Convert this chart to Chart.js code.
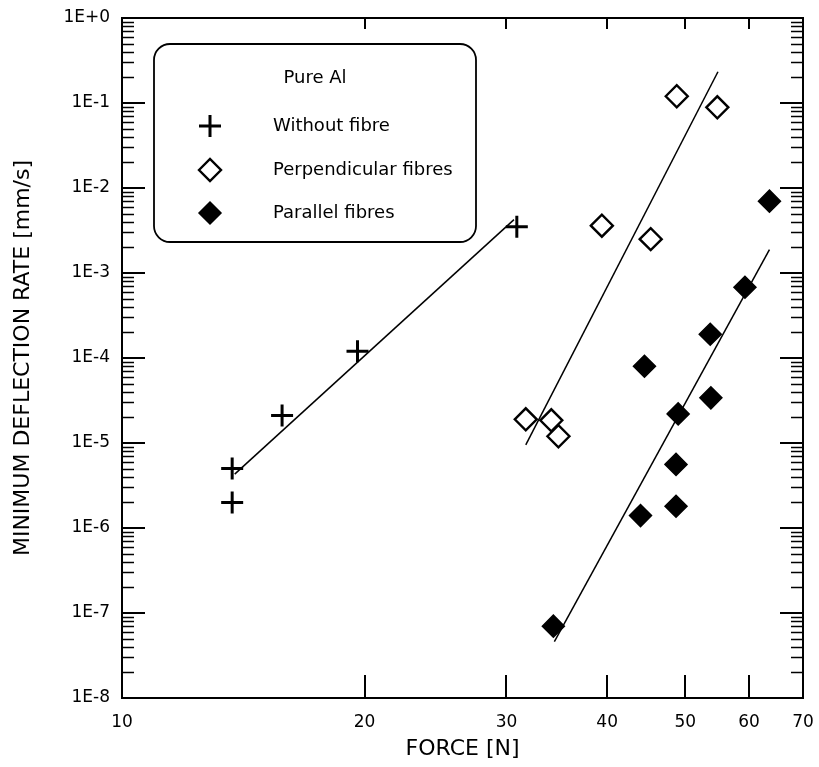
<!DOCTYPE html>
<html>
<head>
<meta charset="utf-8">
<title>Minimum deflection rate vs force</title>
<script src="https://cdn.jsdelivr.net/npm/chart.js@4.4.1/dist/chart.umd.min.js"></script>
<style>
    html, body { margin: 0; padding: 0; background: #fff; }
    #wrap { width: 819px; height: 767px; }
</style>
</head>
<body>
<div id="wrap"><canvas id="chart" width="819" height="767"></canvas></div>
<script>
// ---- values (force in N, rate in mm/s) ----
const withoutForce = [13.7, 13.7, 15.8, 19.6, 30.9];
const withoutRate = [5.0e-6, 2.0e-6, 2.1e-5, 1.2e-4, 3.5e-3];

const perpForce = [31.7, 34.1, 34.8, 39.4, 45.3, 48.8, 54.8];
const perpRate = [1.9e-5, 1.85e-5, 1.2e-5, 3.6e-3, 2.5e-3, 0.12, 0.089];

const paraForce = [34.3, 44.0, 44.5, 48.7, 48.7, 49.0, 53.7, 53.8, 59.3, 63.6];
const paraRate = [7.0e-8, 1.4e-6, 8.0e-5, 1.8e-6, 5.6e-6, 2.2e-5, 1.9e-4, 3.4e-5, 6.8e-4, 7.0e-3];

// fitted lines (end points)
const withoutFitForce = [13.8, 30.65];
const withoutFitRate = [4.3e-6, 4.25e-3];
const perpFitForce = [31.7, 54.9];
const perpFitRate = [9.5e-6, 0.233];
const paraFitForce = [34.4, 63.6];
const paraFitRate = [4.6e-8, 1.88e-3];

const xTicks = [10, 20, 30, 40, 50, 60, 70];
const yTicks = [1e-8, 1e-7, 1e-6, 1e-5, 1e-4, 1e-3, 1e-2, 1e-1, 1];
const yTickLabels = ["1E-8", "1E-7", "1E-6", "1E-5", "1E-4", "1E-3", "1E-2", "1E-1", "1E+0"];

const legendTitle = "Pure Al";
const seriesNames = ["Without fibre", "Perpendicular fibres", "Parallel fibres"];

const FONT = '"DejaVu Sans", Verdana, sans-serif';

const toPoints = (xs, ys) => xs.map((v, i) => ({ x: v, y: ys[i] }));

const fitLine = (xs, ys) => ({
    type: "line",
    data: toPoints(xs, ys),
    borderColor: "#000",
    borderWidth: 1.5,
    pointRadius: 0,
    fill: false,
    order: 0,
});

// ---------- frame with inward ticks on all four sides ----------
const frameTicks = {
    id: "frameTicks",
    afterDraw(chart) {
        const { ctx, chartArea: a } = chart;
        const { x, y } = chart.scales;
        ctx.save();
        ctx.strokeStyle = "#000";

        // minor ticks (2..9 of every decade)
        ctx.lineWidth = 1.5;
        ctx.beginPath();
        for (let i = 0; i < yTicks.length - 1; i++) {
            for (let m = 2; m <= 9; m++) {
                const py = Math.round(y.getPixelForValue(yTicks[i] * m)) + 0.5;
                ctx.moveTo(a.left, py);
                ctx.lineTo(a.left + 12, py);
                ctx.moveTo(a.right, py);
                ctx.lineTo(a.right - 12, py);
            }
        }
        ctx.stroke();

        // major ticks
        ctx.lineWidth = 2;
        ctx.beginPath();
        yTicks.forEach((d) => {
            const py = Math.round(y.getPixelForValue(d));
            ctx.moveTo(a.left, py);
            ctx.lineTo(a.left + 23, py);
            ctx.moveTo(a.right, py);
            ctx.lineTo(a.right - 23, py);
        });
        xTicks.forEach((v) => {
            const px = Math.round(x.getPixelForValue(v));
            ctx.moveTo(px, a.bottom);
            ctx.lineTo(px, a.bottom - 23);
            ctx.moveTo(px, a.top);
            ctx.lineTo(px, a.top + 11);
        });
        ctx.stroke();

        ctx.strokeRect(a.left, a.top, a.right - a.left, a.bottom - a.top);
        ctx.restore();
    },
};

// ---------- boxed legend inside the plot ----------
const boxLegend = {
    id: "boxLegend",
    afterDraw(chart) {
        const { ctx } = chart;
        const box = { x: 154, y: 44, w: 322, h: 198, r: 16 };
        ctx.save();
        ctx.lineWidth = 1.8;
        ctx.strokeStyle = "#000";
        ctx.fillStyle = "#fff";
        ctx.beginPath();
        ctx.roundRect(box.x, box.y, box.w, box.h, box.r);
        ctx.fill();
        ctx.stroke();

        ctx.fillStyle = "#000";
        ctx.font = "18px " + FONT;
        ctx.textBaseline = "middle";
        ctx.textAlign = "center";
        ctx.fillText(legendTitle, 315, 78);

        const markers = chart.data.datasets.filter((d) => d.type === "scatter");
        const rowY = [126, 170, 213];
        ctx.textAlign = "left";
        markers.forEach((ds, i) => {
            ctx.save();
            ctx.strokeStyle = ds.borderColor;
            ctx.fillStyle = ds.backgroundColor;
            ctx.lineWidth = ds.borderWidth;
            Chart.helpers.drawPoint(ctx, {
                pointStyle: ds.pointStyle,
                radius: ds.pointRadius,
                rotation: 0,
                borderWidth: ds.borderWidth,
            }, 210, rowY[i]);
            ctx.restore();
            ctx.fillStyle = "#000";
            ctx.fillText(seriesNames[i], 273, rowY[i]);
        });
        ctx.restore();
    },
};

const tickFont = { family: FONT, size: 17 };
const titleFont = { family: FONT, size: 22 };

new Chart(document.getElementById("chart"), {
    data: {
        datasets: [
            fitLine(withoutFitForce, withoutFitRate),
            fitLine(perpFitForce, perpFitRate),
            fitLine(paraFitForce, paraFitRate),
            {
                type: "scatter",
                label: seriesNames[0],
                data: toPoints(withoutForce, withoutRate),
                pointStyle: "cross",
                pointRadius: 11,
                borderColor: "#000",
                backgroundColor: "#000",
                borderWidth: 3,
                order: 1,
            },
            {
                type: "scatter",
                label: seriesNames[1],
                data: toPoints(perpForce, perpRate),
                pointStyle: "rectRot",
                pointRadius: 11,
                borderColor: "#000",
                backgroundColor: "#fff",
                borderWidth: 2.4,
                order: 1,
            },
            {
                type: "scatter",
                label: seriesNames[2],
                data: toPoints(paraForce, paraRate),
                pointStyle: "rectRot",
                pointRadius: 11,
                borderColor: "#000",
                backgroundColor: "#000",
                borderWidth: 1.5,
                order: 1,
            },
        ],
    },
    options: {
        responsive: false,
        animation: false,
        layout: { padding: { top: 18, right: 16, left: 0, bottom: 0 } },
        plugins: {
            legend: { display: false },
            tooltip: { enabled: false },
        },
        scales: {
            x: {
                type: "logarithmic",
                position: "bottom",
                min: 10,
                max: 70,
                bounds: "data",
                grid: { display: false, drawTicks: false },
                border: { display: false },
                afterBuildTicks: (s) => { s.ticks = xTicks.map((v) => ({ value: v })); },
                afterFit: (s) => {
                    s.height = 69;
                    s.paddingLeft = 0;
                    s.paddingRight = 0;
                },
                ticks: {
                    autoSkip: false,
                    maxRotation: 0,
                    padding: 14,
                    color: "#000",
                    font: tickFont,
                    callback: (v) => String(v),
                },
                title: {
                    display: true,
                    text: "FORCE [N]",
                    color: "#000",
                    font: titleFont,
                    padding: { top: 0, bottom: 5 },
                },
            },
            y: {
                type: "logarithmic",
                position: "left",
                min: 1e-8,
                max: 1,
                bounds: "data",
                grid: { display: false, drawTicks: false },
                border: { display: false },
                afterBuildTicks: (s) => { s.ticks = yTicks.map((v) => ({ value: v })); },
                afterFit: (s) => {
                    s.width = 122;
                    s.paddingTop = 0;
                    s.paddingBottom = 0;
                },
                ticks: {
                    autoSkip: false,
                    padding: 12,
                    color: "#000",
                    font: tickFont,
                    callback: (v, i) => yTickLabels[i],
                },
                title: {
                    display: true,
                    text: "MINIMUM DEFLECTION RATE [mm/s]",
                    color: "#000",
                    font: titleFont,
                    padding: { top: 10, bottom: 0 },
                },
            },
        },
    },
    plugins: [frameTicks, boxLegend],
});
</script>
</body>
</html>
